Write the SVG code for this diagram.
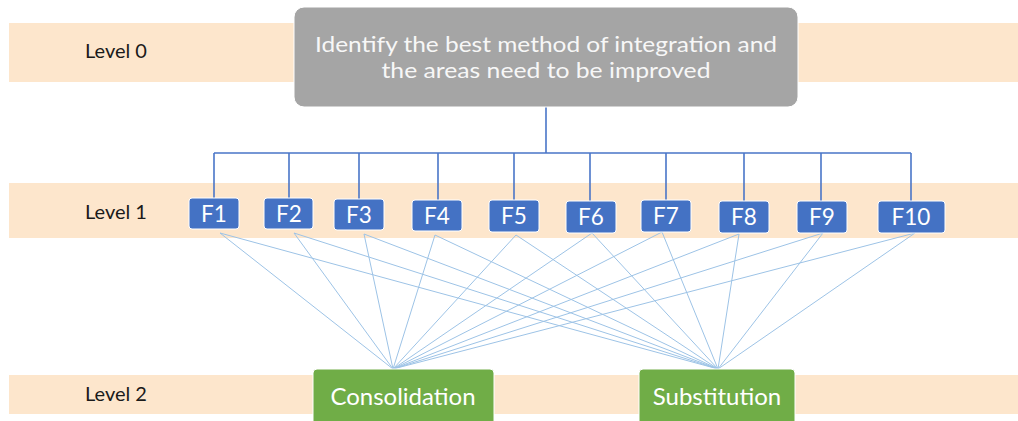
<svg xmlns="http://www.w3.org/2000/svg" width="1018" height="421" viewBox="0 0 1018 421">
<style>
.band{fill:#fde6cc}
.lvl{font-family:Lato,"Open Sans","Liberation Sans",sans-serif;font-size:20px;fill:#1a1a1a}
.f rect{fill:#4472c4;stroke:#ffffff;stroke-width:1}
.f text{font-family:Lato,"Open Sans","Liberation Sans",sans-serif;font-size:22.5px;fill:#ffffff;text-anchor:middle}
.g rect{fill:#70ad47;stroke:#ffffff;stroke-width:1}
.g text{font-family:Lato,"Open Sans","Liberation Sans",sans-serif;font-size:24px;fill:#ffffff;text-anchor:middle}
.t{font-family:Lato,"Open Sans","Liberation Sans",sans-serif;font-size:21px;fill:#f7f7f7;text-anchor:middle}
.tree{stroke:#4a76c8;stroke-width:1.6;fill:none}
.web{stroke:#9dc3e6;stroke-width:1;fill:none}
</style>
<rect width="1018" height="421" fill="#ffffff"/>
<g id="bands">
<rect class="band" x="9" y="23" width="1009" height="59"/>
<rect class="band" x="9" y="183" width="1009" height="55"/>
<rect class="band" x="9" y="375" width="1009" height="39"/>
<text class="lvl" x="85" y="58">Level 0</text>
<text class="lvl" x="85" y="219">Level 1</text>
<text class="lvl" x="85" y="401">Level 2</text>
</g>
<g id="connectors">
<path class="tree" d="M546 107V153M214 153H911M214 153V198M289 153V198M359 153V199M438 153V200M514 153V200M590 153V201M666 153V200M744 153V201M821 153V201M911 153V201"/>
<g class="web">
<path d="M220 233L393 369M220 233L718 369"/>
<path d="M294 233L393 369M294 233L718 369"/>
<path d="M364 234L393 369M364 234L718 369"/>
<path d="M435 235L393 369M435 235L718 369"/>
<path d="M516 235L393 369M516 235L718 369"/>
<path d="M592 233L393 369M592 233L718 369"/>
<path d="M662 232L393 369M662 232L718 369"/>
<path d="M739 234L393 369M739 234L718 369"/>
<path d="M823 233L393 369M823 233L718 369"/>
<path d="M915 233L393 369M915 233L718 369"/>
</g>
</g>
<g id="goal">
<rect x="294" y="7" width="504" height="100" rx="10" fill="#a5a5a5" stroke="#ffffff" stroke-width="1"/>
<text class="t" x="546" y="52" textLength="462" lengthAdjust="spacingAndGlyphs">Identify the best method of integration and</text>
<text class="t" x="546" y="78" textLength="329" lengthAdjust="spacingAndGlyphs">the areas need to be improved</text>
</g>
<g id="F1" class="f"><rect x="189" y="198" width="50" height="31" rx="3"/><text x="214" y="222">F1</text></g>
<g id="F2" class="f"><rect x="264" y="198" width="49" height="31" rx="3"/><text x="289" y="222">F2</text></g>
<g id="F3" class="f"><rect x="334" y="199" width="50" height="31" rx="3"/><text x="359" y="223">F3</text></g>
<g id="F4" class="f"><rect x="412" y="200" width="50" height="31" rx="3"/><text x="437" y="224">F4</text></g>
<g id="F5" class="f"><rect x="489" y="200" width="50" height="32" rx="3"/><text x="514" y="224">F5</text></g>
<g id="F6" class="f"><rect x="566" y="201" width="50" height="32" rx="3"/><text x="591" y="225">F6</text></g>
<g id="F7" class="f"><rect x="641" y="200" width="50" height="32" rx="3"/><text x="666" y="224">F7</text></g>
<g id="F8" class="f"><rect x="719" y="201" width="50" height="32" rx="3"/><text x="744" y="225">F8</text></g>
<g id="F9" class="f"><rect x="797" y="201" width="50" height="32" rx="3"/><text x="822" y="225">F9</text></g>
<g id="F10" class="f"><rect x="878" y="201" width="67" height="32" rx="3"/><text x="911" y="225">F10</text></g>
<g id="consolidation" class="g"><rect x="313" y="369" width="181" height="60" rx="4"/><text x="403" y="405">Consolidation</text></g>
<g id="substitution" class="g"><rect x="639" y="369" width="156" height="60" rx="4"/><text x="717" y="405">Substitution</text></g>
</svg>
